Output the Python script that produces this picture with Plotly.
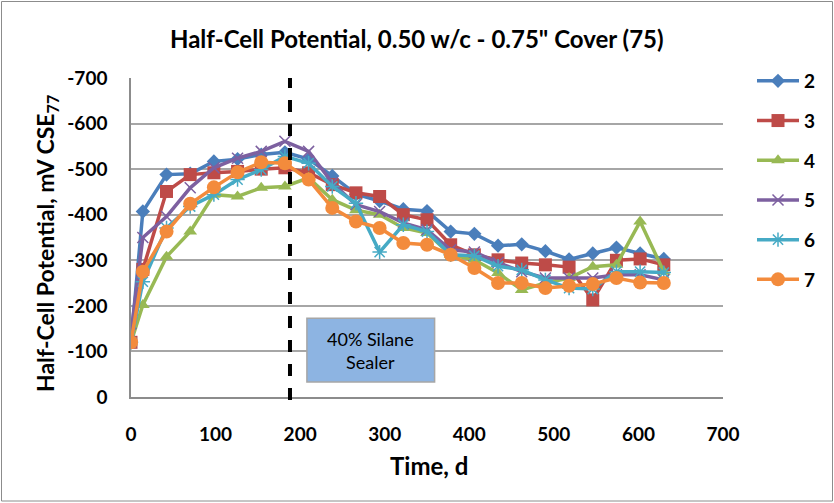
import plotly.graph_objects as go

days = [0, 14, 42, 70, 98, 126, 154, 182, 210, 238, 266, 294, 322, 350, 378, 406, 434, 462, 490, 518, 546, 574, 602, 630]

s2 = [-120, -407, -488, -490, -517, -522, -532, -537, -522, -485, -445, -430, -412, -408, -363, -358, -332, -335, -320, -302, -315, -328, -315, -303]
s3 = [-120, -280, -451, -488, -492, -495, -500, -503, -492, -466, -448, -440, -400, -389, -334, -312, -301, -294, -290, -285, -213, -300, -303, -290]
s4 = [-120, -202, -308, -363, -444, -440, -459, -462, -481, -433, -410, -400, -371, -360, -312, -301, -272, -235, -250, -261, -286, -290, -385, -275]
s5 = [-140, -350, -396, -459, -503, -524, -539, -561, -539, -470, -422, -407, -382, -367, -323, -318, -295, -275, -261, -261, -261, -268, -268, -257]
s6 = [-120, -253, -371, -418, -444, -477, -499, -528, -513, -462, -425, -318, -378, -363, -312, -310, -287, -279, -257, -239, -237, -275, -275, -273]
s7 = [-120, -275, -363, -424, -460, -493, -515, -513, -477, -415, -385, -371, -338, -334, -312, -283, -250, -250, -239, -244, -248, -261, -251, -250]

series_names = ["2", "3", "4", "5", "6", "7"]
series_values = [s2, s3, s4, s5, s6, s7]

y_ticks = [0, -100, -200, -300, -400, -500, -600, -700]
y_tick_labels = ["0", "-100", "-200", "-300", "-400", "-500", "-600", "-700"]
x_ticks = [0, 100, 200, 300, 400, 500, 600, 700]

sealer_day = 188
sealer_label = "40% Silane<br>Sealer"

colors = ["#4A7EBB", "#BE4B48", "#98B954", "#7D60A0", "#46AAC5", "#F38B3C"]
symbols = ["diamond", "square", "triangle-up", "x-thin-open", "asterisk-open", "circle"]
sizes = [11, 13, 12, 11, 12, 14]

FONT = "Lato, 'Open Sans', sans-serif"

fig = go.Figure()
for i, (name, vals) in enumerate(zip(series_names, series_values)):
    marker = dict(symbol=symbols[i], size=sizes[i], color=colors[i])
    if symbols[i] in ("x-thin-open", "asterisk-open"):
        marker["line"] = dict(color=colors[i], width=1.5)
    fig.add_trace(go.Scatter(
        x=days, y=vals, name=name, mode="lines+markers",
        line=dict(color=colors[i], width=3.5),
        marker=marker, legendgroup=name,
    ))

# plot area geometry (pixels)
L, R, T, B = 131, 723, 78, 397
W, H = 834, 503
pw, ph = R - L, B - T

def px_x(p):
    return (p - L) / pw

def px_y(p):
    return (B - p) / ph

shapes = [
    # outer chart border
    dict(type="rect", xref="paper", yref="paper",
         x0=px_x(1.5), x1=px_x(832.5), y0=px_y(1.5), y1=px_y(501),
         line=dict(color="#8C8C8C", width=1), fillcolor="rgba(0,0,0,0)", layer="below"),
    # dashed sealer line
    dict(type="line", xref="x", yref="paper", x0=sealer_day, x1=sealer_day,
         y0=px_y(400), y1=px_y(78), line=dict(color="black", width=4, dash="dash")),
    # sealer box
    dict(type="rect", xref="x", yref="y", x0=208, x1=359, y0=-33, y1=-173,
         fillcolor="#8DB4E2", line=dict(color="#A6A6A6", width=1.5)),
]

annotations = [
    dict(text=sealer_label, x=283.5, y=-103, xref="x", yref="y", showarrow=False,
         font=dict(family=FONT, size=18, color="black")),
    dict(text="Half-Cell Potential, mV CSE<sub>77</sub>", textangle=-90,
         x=px_x(46), y=px_y(244), xref="paper", yref="paper", showarrow=False,
         xanchor="center", yanchor="middle",
         font=dict(family=FONT, size=23, color="black", weight="bold")),
    dict(text="Time, d", x=px_x(429), y=px_y(466), xref="paper", yref="paper",
         xanchor="center", yanchor="middle",
         showarrow=False, font=dict(family=FONT, size=24, color="black", weight="bold")),
    dict(text="Half-Cell Potential, 0.50 w/c - 0.75\" Cover (75)", x=px_x(417), y=px_y(38),
         xref="paper", yref="paper", showarrow=False, xanchor="center", yanchor="middle",
         font=dict(family=FONT, size=24, color="black", weight="bold")),
]

fig.update_layout(
    width=W, height=H,
    margin=dict(l=L, r=W - R, t=T, b=H - B, autoexpand=False),
    paper_bgcolor="white", plot_bgcolor="white",
    font=dict(family=FONT, color="black"),
    shapes=shapes, annotations=annotations,
    showlegend=True,
    legend=dict(x=px_x(752), y=px_y(62), xanchor="left", yanchor="top",
                font=dict(family=FONT, size=19, color="black", weight="bold"),
                tracegroupgap=12, itemwidth=42, bgcolor="rgba(0,0,0,0)",
                maxheight=1.0),
    xaxis=dict(range=[0, 700], tickvals=x_ticks, showgrid=False,
               showline=True, linecolor="#8C8C8C", linewidth=1.5,
               ticks="", ticklabelstandoff=19, zeroline=False,
               tickfont=dict(family=FONT, size=19, color="black", weight="bold")),
    yaxis=dict(range=[0, -700], tickvals=y_ticks, ticktext=y_tick_labels,
               showgrid=True, gridcolor="#A6A6A6", gridwidth=1.5,
               showline=True, linecolor="#8C8C8C", linewidth=1.5,
               ticks="", ticklabelstandoff=18, zeroline=False,
               tickfont=dict(family=FONT, size=19, color="black", weight="bold")),
)

fig.write_html("out.html", config={"displayModeBar": False},
               post_script="document.body.style.margin='0';document.body.style.overflow='hidden';")
